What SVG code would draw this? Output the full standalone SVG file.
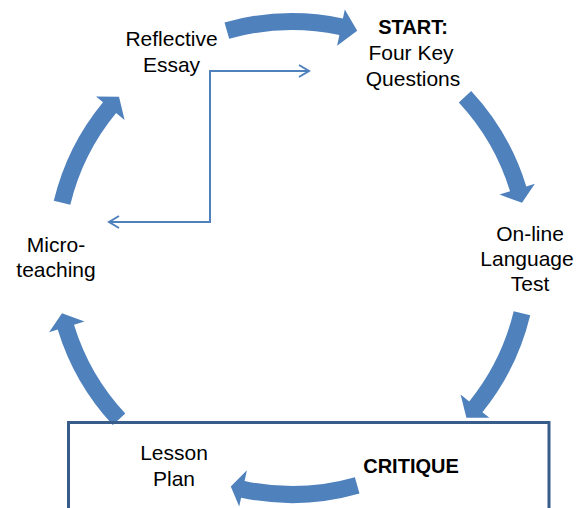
<svg xmlns="http://www.w3.org/2000/svg" width="576" height="508" viewBox="0 0 576 508">
  <style>
    .arc { fill: #4F81BD; stroke: none; }
    .lbl { font-family: "Liberation Sans", Arial, sans-serif; font-size: 21px; fill: #000000; text-anchor: middle; }
    .bold { font-weight: bold; font-size: 20px; }
    .thin { fill: none; stroke: #4F81BD; stroke-width: 2; }
    .box { fill: none; stroke: #385D8A; stroke-width: 3; }
  </style>
  <defs>
    <marker id="chev" markerUnits="userSpaceOnUse" markerWidth="14" markerHeight="16" refX="11" refY="7" orient="auto-start-reverse">
      <path d="M1,1 L11,7 L1,13" fill="none" stroke="#4F81BD" stroke-width="2"/>
    </marker>
  </defs>
  <rect width="576" height="508" fill="#FFFFFF"/>

  <g id="connectors">
    <path id="arrow-top" class="arc" d="M224.5,22.5 A245,245 0 0,1 342.9,18.4 L344.8,9.5 L357.2,30.7 L337.1,45.7 L339.4,35.0 A228,228 0 0,0 229.2,38.8 Z"/>
    <path id="arrow-right" class="arc" d="M471.2,90.9 A245,245 0 0,1 526.3,186.4 L534.9,183.7 L522.0,202.8 L499.5,194.6 L510.0,191.3 A228,228 0 0,0 458.8,102.5 Z"/>
    <path id="arrow-bottom-right" class="arc" d="M530.2,315.2 A245,245 0 0,1 482.4,412.2 L489.4,417.8 L466.4,417.8 L460.6,394.6 L469.2,401.5 A228,228 0 0,0 513.7,311.2 Z"/>
    <path id="arrow-bottom" class="arc" d="M359.5,493.5 A245,245 0 0,1 241.1,497.7 L239.2,506.5 L230.8,486.4 L246.9,470.3 L244.6,481.0 A228,228 0 0,0 354.9,477.2 Z"/>
    <path id="arrow-lower-left" class="arc" d="M112.8,425.1 A245,245 0 0,1 57.7,329.6 L49.1,332.3 L62.0,313.2 L84.5,321.4 L74.0,324.7 A228,228 0 0,0 125.3,413.5 Z"/>
    <path id="arrow-upper-left" class="arc" d="M53.8,200.8 A245,245 0 0,1 103.0,102.2 L96.0,96.4 L119.0,96.7 L124.6,120.0 L116.1,113.0 A228,228 0 0,0 70.3,204.8 Z"/>
    <path id="feedback" class="thin" d="M309,71 L210,71 L210,222 L109,222" marker-start="url(#chev)" marker-end="url(#chev)"/>
  </g>

  <g id="critique-box">
    <rect class="box" x="68.5" y="422.5" width="480.5" height="100"/>
  </g>

  <g id="node-start">
    <text class="lbl bold" x="413" y="34">START:</text>
    <text class="lbl" x="411" y="60">Four Key</text>
    <text class="lbl" x="413" y="86">Questions</text>
  </g>
  <g id="node-test">
    <text class="lbl" x="530" y="241">On-line</text>
    <text class="lbl" x="527" y="266">Language</text>
    <text class="lbl" x="530" y="291">Test</text>
  </g>
  <g id="node-critique">
    <text class="lbl bold" x="411" y="473">CRITIQUE</text>
  </g>
  <g id="node-lesson">
    <text class="lbl" x="174" y="460">Lesson</text>
    <text class="lbl" x="174" y="486">Plan</text>
  </g>
  <g id="node-micro">
    <text class="lbl" x="56" y="252">Micro-</text>
    <text class="lbl" x="56" y="277">teaching</text>
  </g>
  <g id="node-essay">
    <text class="lbl" x="171.5" y="46">Reflective</text>
    <text class="lbl" x="171.5" y="72">Essay</text>
  </g>
</svg>
